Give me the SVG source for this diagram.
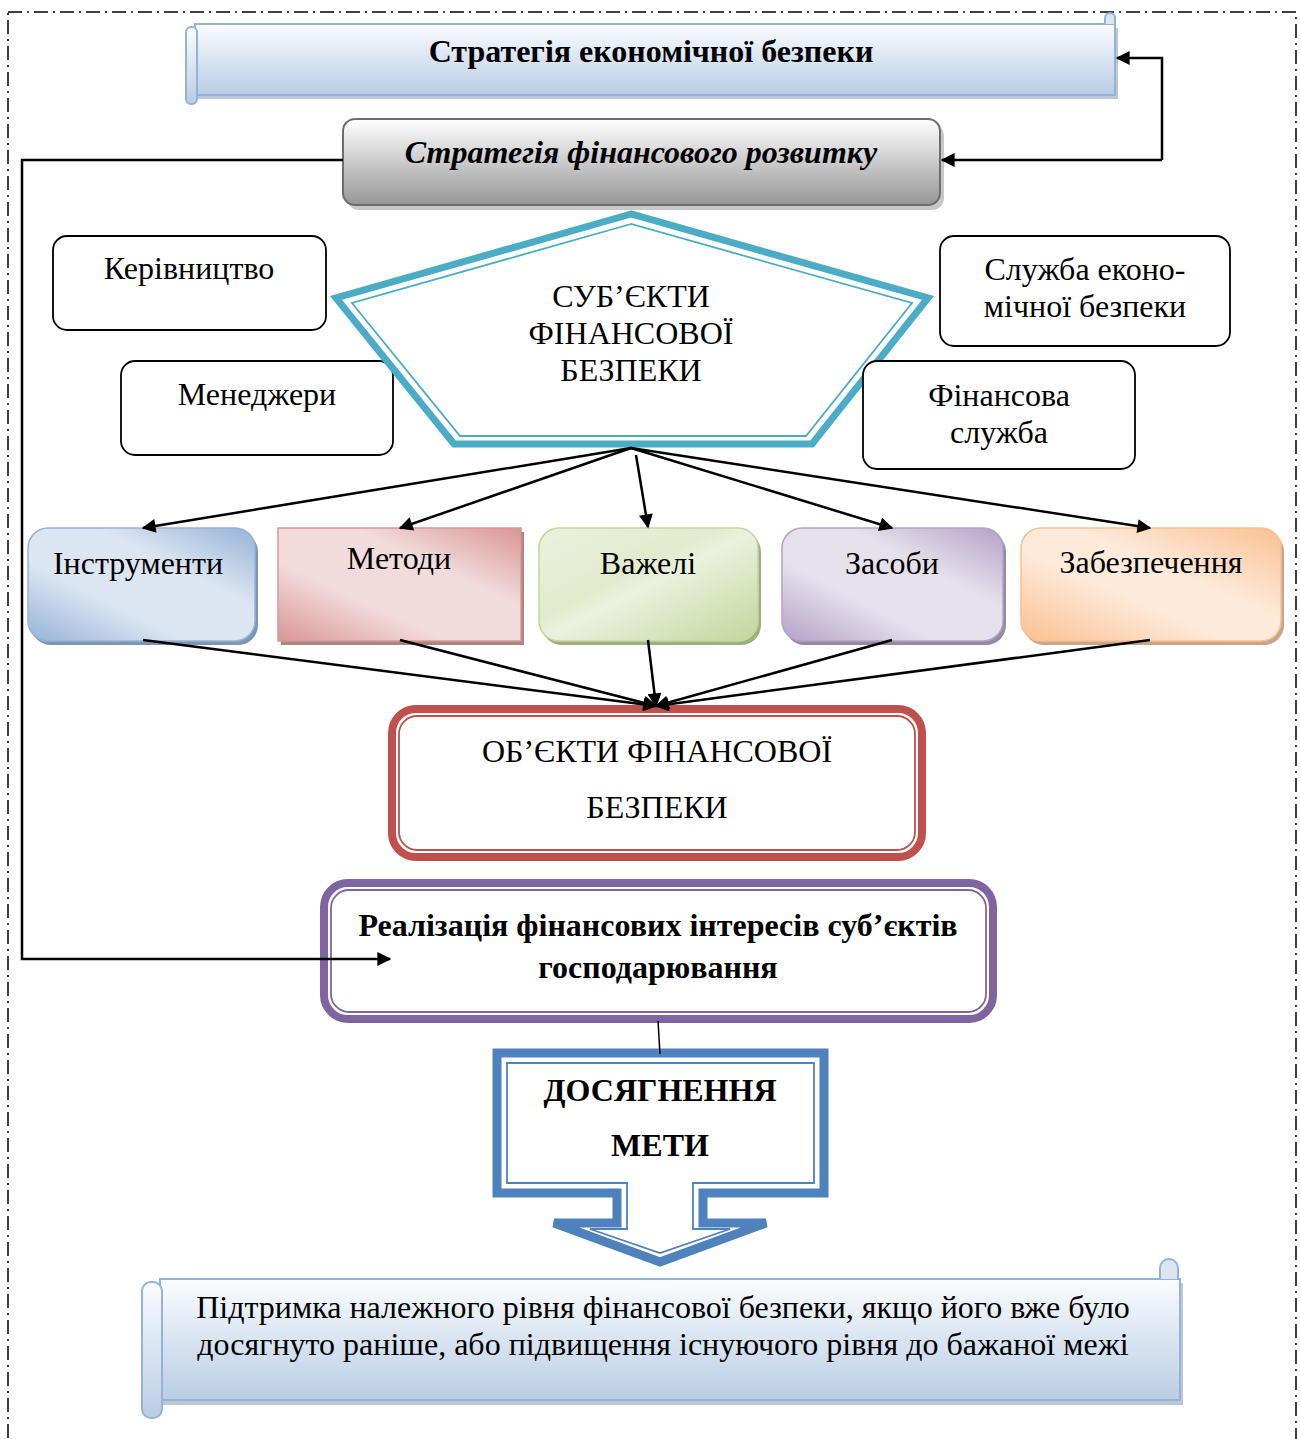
<svg xmlns="http://www.w3.org/2000/svg" width="1300" height="1439" viewBox="0 0 1300 1439">
<style>
.t{font-family:"Liberation Serif","Times New Roman",serif;fill:#000;text-anchor:middle}
.r{font-size:32px}
.b{font-size:32px;font-weight:bold}
.ln{stroke:#000;stroke-width:2.5;fill:none}
.box{fill:#fff;stroke:#000;stroke-width:1.8}
</style>
<defs>
<marker id="ah" viewBox="0 0 10 10" refX="9" refY="5" markerWidth="18" markerHeight="14" markerUnits="userSpaceOnUse" orient="auto"><path d="M0,0 L10,5 L0,10 Z" fill="#000"/></marker>
<linearGradient id="scroll" x1="0" y1="0" x2="0" y2="1"><stop offset="0" stop-color="#FAFCFE"/><stop offset="1" stop-color="#B9CDE5"/></linearGradient>
<linearGradient id="gray" x1="0" y1="0" x2="0" y2="1"><stop offset="0" stop-color="#FFFFFF"/><stop offset="1" stop-color="#969696"/></linearGradient>
<linearGradient id="gB" x1="0" y1="1" x2="1" y2="0"><stop offset="0" stop-color="#95B3D7"/><stop offset="0.35" stop-color="#DCE6F2"/><stop offset="0.65" stop-color="#DCE6F2"/><stop offset="1" stop-color="#95B3D7"/></linearGradient>
<linearGradient id="gR" x1="0" y1="1" x2="1" y2="0"><stop offset="0" stop-color="#D99694"/><stop offset="0.35" stop-color="#F2DCDB"/><stop offset="0.65" stop-color="#F2DCDB"/><stop offset="1" stop-color="#D99694"/></linearGradient>
<linearGradient id="gG" x1="0" y1="0" x2="1" y2="1"><stop offset="0" stop-color="#EBF1DE"/><stop offset="0.4" stop-color="#E2EBCD"/><stop offset="0.5" stop-color="#EBF1DE"/><stop offset="1" stop-color="#C3D69B"/></linearGradient>
<linearGradient id="gP" x1="0" y1="1" x2="1" y2="0"><stop offset="0" stop-color="#B3A2C7"/><stop offset="0.35" stop-color="#E5E0EC"/><stop offset="0.65" stop-color="#E5E0EC"/><stop offset="1" stop-color="#B3A2C7"/></linearGradient>
<linearGradient id="gO" x1="0" y1="1" x2="1" y2="0"><stop offset="0" stop-color="#FAC090"/><stop offset="0.4" stop-color="#FDEADA"/><stop offset="0.6" stop-color="#FDEADA"/><stop offset="1" stop-color="#FAC090"/></linearGradient>
</defs>

<rect x="8" y="12" width="1288" height="1440" fill="none" stroke="#000" stroke-width="1.5" stroke-dasharray="14,5,2,5"/>

<g id="strategy-econ">
<rect x="197" y="28" width="921" height="71" fill="#8EA3BF" opacity="0.6"/>
<rect x="195" y="24" width="920" height="71" fill="url(#scroll)" stroke="#95B3D7" stroke-width="2"/>
<path d="M1105,24 V18 a5,5 0 0 1 10,0 V24" fill="#DCE6F2" stroke="#95B3D7" stroke-width="2"/>
<rect x="186" y="27" width="11" height="77" rx="5" fill="url(#scroll)" stroke="#95B3D7" stroke-width="2"/>
<text class="t b" x="651" y="62">Стратегія економічної безпеки</text>
</g>

<g id="strategy-fin">
<rect x="347" y="124" width="597" height="86" rx="12" fill="#C8C8C8"/>
<rect x="343" y="119" width="597" height="86" rx="12" fill="url(#gray)" stroke="#6E6E6E" stroke-width="2"/>
<text class="t b" x="641" y="163" font-style="italic">Стратегія фінансового розвитку</text>
</g>

<g id="kerivnytstvo">
<rect class="box" x="53" y="236" width="273" height="94" rx="14"/>
<text class="t r" x="189" y="279">Керівництво</text>
</g>
<g id="menedzhery">
<rect class="box" x="121" y="361" width="272" height="94" rx="14"/>
<text class="t r" x="257" y="405">Менеджери</text>
</g>

<g id="subjects">
<polygon points="631,214 336,298 454,444 812,444 928,298" fill="#fff" stroke="#4BACC6" stroke-width="7" stroke-linejoin="miter"/>
<polygon points="631,224 352,303 460,436 806,436 912,303" fill="none" stroke="#4BACC6" stroke-width="1.8"/>
<text class="t r" x="631" y="307">СУБ’ЄКТИ</text>
<text class="t r" x="631" y="344">ФІНАНСОВОЇ</text>
<text class="t r" x="631" y="381">БЕЗПЕКИ</text>
</g>

<g id="sluzhba-ekon">
<rect class="box" x="940" y="236" width="290" height="110" rx="14"/>
<text class="t r" x="1085" y="280">Служба еконо-</text>
<text class="t r" x="1085" y="317">мічної безпеки</text>
</g>
<g id="fin-sluzhba">
<rect class="box" x="863" y="361" width="272" height="108" rx="14"/>
<text class="t r" x="999" y="406">Фінансова</text>
<text class="t r" x="999" y="443">служба</text>
</g>

<g id="instrumenty">
<rect x="31" y="532" width="227" height="113" rx="20" fill="#7F95B2"/>
<rect x="28" y="528" width="227" height="113" rx="20" fill="url(#gB)" stroke="#95B3D7" stroke-width="1.5"/>
<text class="t r" x="138" y="574">Інструменти</text>
</g>
<g id="metody">
<rect x="281" y="532" width="243" height="113" fill="#A88684"/>
<rect x="278" y="528" width="243" height="113" fill="url(#gR)" stroke="#D99694" stroke-width="1.5"/>
<text class="t r" x="399" y="569">Методи</text>
</g>
<g id="vazheli">
<rect x="542" y="532" width="219" height="113" rx="20" fill="#A0AE86"/>
<rect x="539" y="528" width="219" height="113" rx="20" fill="url(#gG)" stroke="#C3D69B" stroke-width="1.5"/>
<text class="t r" x="648" y="574">Важелі</text>
</g>
<g id="zasoby">
<rect x="785" y="532" width="221" height="113" rx="20" fill="#968AA3"/>
<rect x="782" y="528" width="221" height="113" rx="20" fill="url(#gP)" stroke="#B3A2C7" stroke-width="1.5"/>
<text class="t r" x="892" y="574">Засоби</text>
</g>
<g id="zabezpechennya">
<rect x="1024" y="532" width="260" height="113" rx="20" fill="#C9A589"/>
<rect x="1021" y="528" width="260" height="113" rx="20" fill="url(#gO)" stroke="#FAC090" stroke-width="1.5"/>
<text class="t r" x="1151" y="573">Забезпечення</text>
</g>

<g id="objects">
<rect x="392" y="709" width="530" height="148" rx="24" fill="#fff" stroke="#C0504D" stroke-width="8"/>
<rect x="399" y="716" width="516" height="134" rx="18" fill="none" stroke="#C0504D" stroke-width="1.8"/>
<text class="t r" x="657" y="762">ОБ’ЄКТИ ФІНАНСОВОЇ</text>
<text class="t r" x="657" y="818">БЕЗПЕКИ</text>
</g>

<g id="realization">
<rect x="324" y="883" width="669" height="136" rx="24" fill="#fff" stroke="#8064A2" stroke-width="8"/>
<rect x="331" y="890" width="655" height="122" rx="18" fill="none" stroke="#8064A2" stroke-width="1.8"/>
<text class="t b" x="658" y="936">Реалізація фінансових інтересів суб’єктів</text>
<text class="t b" x="658" y="978">господарювання</text>
</g>

<g id="goal">
<path d="M497,1053 H824 V1193 H703 V1223 H766 L660,1262 L554,1223 H617 V1193 H497 Z" fill="#fff" stroke="#4F81BD" stroke-width="9" stroke-linejoin="miter"/>
<path d="M507,1063 H814 V1183 H693 V1229 H730 L660,1253 L590,1229 H627 V1183 H507 Z" fill="none" stroke="#4F81BD" stroke-width="1.8"/>
<text class="t b" x="660" y="1101">ДОСЯГНЕННЯ</text>
<text class="t b" x="660" y="1156">МЕТИ</text>
</g>

<g id="support">
<rect x="163" y="1283" width="1020" height="122" fill="#8EA3BF" opacity="0.6"/>
<rect x="160" y="1279" width="1020" height="121" fill="url(#scroll)" stroke="#95B3D7" stroke-width="2"/>
<path d="M1160,1279 V1268 a9,9 0 0 1 18,0 V1279" fill="#DCE6F2" stroke="#95B3D7" stroke-width="2"/>
<rect x="142" y="1282" width="20" height="136" rx="9" fill="url(#scroll)" stroke="#95B3D7" stroke-width="2"/>
<text class="t r" x="663" y="1318">Підтримка належного рівня фінансової безпеки, якщо його вже було</text>
<text class="t r" x="663" y="1355">досягнуто раніше, або підвищення існуючого рівня до бажаної межі</text>
</g>

<g id="connectors">
<path class="ln" d="M343,160 H22 V959 H390" marker-end="url(#ah)"/>
<path class="ln" d="M1162,160 V58 H1117" marker-end="url(#ah)"/>
<path class="ln" d="M1162,160 H942" marker-end="url(#ah)"/>
<path class="ln" d="M631,448 L143,528" marker-end="url(#ah)"/>
<path class="ln" d="M631,448 L400,528" marker-end="url(#ah)"/>
<path class="ln" d="M636,455 L648,527" marker-end="url(#ah)"/>
<path class="ln" d="M631,448 L892,528" marker-end="url(#ah)"/>
<path class="ln" d="M631,448 L1150,528" marker-end="url(#ah)"/>
<path class="ln" d="M143,640 L656,706" marker-end="url(#ah)"/>
<path class="ln" d="M400,640 L656,706" marker-end="url(#ah)"/>
<path class="ln" d="M648,640 L656,706" marker-end="url(#ah)"/>
<path class="ln" d="M892,640 L656,706" marker-end="url(#ah)"/>
<path class="ln" d="M1150,640 L656,706" marker-end="url(#ah)"/>
<path d="M658,1021 L660,1054" stroke="#000" stroke-width="1.5" fill="none"/>
</g>
</svg>
